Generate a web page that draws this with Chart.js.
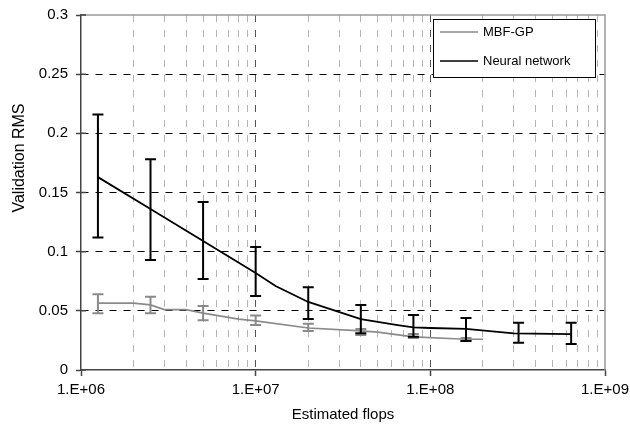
<!DOCTYPE html>
<html>
<head>
<meta charset="utf-8">
<script src="https://cdn.jsdelivr.net/npm/chart.js@4.4.1/dist/chart.umd.min.js"></script>
<style>
	html, body { margin: 0; padding: 0; background: #fff; }
	#rmsChart { display: block; }
</style>
</head>
<body>
<canvas id="rmsChart" width="630" height="433"></canvas>
<script>

/***************************** data *****************************/
// MBF-GP curve
let gpFlops = [1.25e6, 2e6, 2.5e6, 3e6, 4e6, 5e6, 8e6, 1e7, 2e7, 4e7, 5e7, 8e7, 1.6e8, 2e8]
let gpRms = [0.0565, 0.0565, 0.055, 0.051, 0.051, 0.048, 0.043, 0.0415, 0.0355, 0.033, 0.032, 0.028, 0.026, 0.026]

// MBF-GP error bars
let gpErrFlops = [1.25e6, 2.5e6, 5e6, 1e7, 2e7, 4e7, 8e7, 1.6e8]
let gpErrLow = [0.048, 0.048, 0.042, 0.038, 0.033, 0.0296, 0.027, 0.0245]
let gpErrHigh = [0.064, 0.062, 0.054, 0.046, 0.039, 0.0347, 0.0304, 0.027]

// neural network curve
let nnFlops = [1.25e6, 2.5e6, 5e6, 1e7, 1.3e7, 2e7, 4e7, 6.5e7, 8e7, 1e8, 1.6e8, 3e8, 6.4e8]
let nnRms = [0.163, 0.136, 0.109, 0.082, 0.071, 0.0575, 0.043, 0.038, 0.036, 0.0355, 0.0347, 0.031, 0.0304]

// neural network error bars
let nnErrFlops = [1.25e6, 2.5e6, 5e6, 1e7, 2e7, 4e7, 8e7, 1.6e8, 3.2e8, 6.4e8]
let nnErrLow = [0.112, 0.093, 0.077, 0.0625, 0.043, 0.031, 0.028, 0.0245, 0.023, 0.022]
let nnErrHigh = [0.216, 0.178, 0.142, 0.104, 0.070, 0.055, 0.0465, 0.044, 0.040, 0.040]

// tick labels
let xTickLabels = ['1.E+06', '1.E+07', '1.E+08', '1.E+09']
let yTickLabels = ['0', '0.05', '0.1', '0.15', '0.2', '0.25', '0.3']

let seriesNames = ['MBF-GP', 'Neural network']
let xTitle = 'Estimated flops'
let yTitle = 'Validation RMS'

/***************************** helpers *****************************/
function ById(id) {
	return document.getElementById(id);
}

function toPoints(xs, ys) {
	let pts = []
	for (let i = 0; i < xs.length; i++) {
		pts.push({ x: xs[i], y: ys[i] })
	}
	return pts
}

function isDecade(v) {
	let l = Math.log10(v)
	return Math.abs(l - Math.round(l)) < 1e-9
}

// log grid: 1..9 x 10^n
let xGrid = []
for (let e = 6; e < 9; e++) {
	for (let m = 1; m < 10; m++) {
		xGrid.push(m * Math.pow(10, e))
	}
}
xGrid.push(1e9)

const FONT = "'Liberation Sans', Arial, sans-serif"
const GRAY = '#8a8a8a'

/***************************** error bars *****************************/
const errorBarPlugin = {
	id: 'errorBars',
	afterDatasetsDraw(chart) {
		let ctx = chart.ctx
		let xs = chart.scales.x
		let ys = chart.scales.y
		let sets = [
			{ f: gpErrFlops, lo: gpErrLow, hi: gpErrHigh, color: GRAY },
			{ f: nnErrFlops, lo: nnErrLow, hi: nnErrHigh, color: '#000' }
		]
		ctx.save()
		ctx.lineWidth = 2
		for (let s of sets) {
			ctx.strokeStyle = s.color
			for (let i = 0; i < s.f.length; i++) {
				let px = xs.getPixelForValue(s.f[i])
				let top = ys.getPixelForValue(s.hi[i])
				let bot = ys.getPixelForValue(s.lo[i])
				ctx.beginPath()
				ctx.moveTo(px, top)
				ctx.lineTo(px, bot)
				ctx.moveTo(px - 5.5, top)
				ctx.lineTo(px + 5.5, top)
				ctx.moveTo(px - 5.5, bot)
				ctx.lineTo(px + 5.5, bot)
				ctx.stroke()
			}
		}
		ctx.restore()
	}
}

/***************************** frame, legend, titles *****************************/
const framePlugin = {
	id: 'frame',
	afterDraw(chart) {
		let ctx = chart.ctx
		let a = chart.chartArea
		ctx.save()

		// top and right frame
		ctx.strokeStyle = '#999'
		ctx.lineWidth = 1.5
		ctx.beginPath()
		ctx.moveTo(a.left, a.top)
		ctx.lineTo(a.right, a.top)
		ctx.lineTo(a.right, a.bottom)
		ctx.stroke()

		// y ticks reach a little inside the plot
		ctx.strokeStyle = '#444'
		ctx.beginPath()
		for (let i = 0; i < yTickLabels.length; i++) {
			let py = chart.scales.y.getPixelForValue(Number(yTickLabels[i]))
			ctx.moveTo(a.left, py)
			ctx.lineTo(a.left + 5, py)
		}
		ctx.stroke()

		// legend box
		let w = 162, h = 58
		let lx = a.right - 10 - w
		let ly = a.top + 4
		ctx.fillStyle = '#fff'
		ctx.fillRect(lx, ly, w, h)
		ctx.strokeStyle = '#000'
		ctx.lineWidth = 1
		ctx.strokeRect(lx + 0.5, ly + 0.5, w, h)

		ctx.font = '13px ' + FONT
		ctx.textBaseline = 'middle'
		ctx.textAlign = 'left'
		chart.data.datasets.forEach(function(ds, i) {
			let ry = ly + 13 + i * 29
			ctx.strokeStyle = ds.borderColor
			ctx.lineWidth = 1.5
			ctx.beginPath()
			ctx.moveTo(lx + 7, ry)
			ctx.lineTo(lx + 45, ry)
			ctx.stroke()
			ctx.fillStyle = '#000'
			ctx.fillText(ds.label, lx + 50, ry)
		})

		// axis titles
		ctx.fillStyle = '#000'
		ctx.font = '15px ' + FONT
		ctx.textAlign = 'center'
		ctx.fillText(xTitle, (a.left + a.right) / 2, 415)

		ctx.save()
		ctx.translate(20, 158)
		ctx.rotate(-Math.PI / 2)
		ctx.font = '16px ' + FONT
		ctx.fillText(yTitle, 0, 0)
		ctx.restore()

		ctx.restore()
	}
}

/***************************** chart *****************************/
var chartArea = ById('rmsChart').getContext('2d');

Chart.defaults.font.family = FONT
Chart.defaults.color = '#000'

var rmsChart = new Chart(chartArea, {
	type: 'line',
	data: {
		datasets: [{
			label: seriesNames[0],
			data: toPoints(gpFlops, gpRms),
			borderColor: GRAY,
			backgroundColor: GRAY,
			borderWidth: 1.7,
			pointRadius: 0,
			tension: 0
		}, {
			label: seriesNames[1],
			data: toPoints(nnFlops, nnRms),
			borderColor: '#000',
			backgroundColor: '#000',
			borderWidth: 1.8,
			pointRadius: 0,
			tension: 0
		}]
	},
	options: {
		responsive: false,
		animation: false,
		devicePixelRatio: 1,
		layout: {
			padding: { top: 15, right: 25, left: 0, bottom: 0 }
		},
		plugins: {
			legend: { display: false },
			tooltip: { enabled: false }
		},
		scales: {
			x: {
				type: 'logarithmic',
				min: 1e6,
				max: 1e9,
				afterBuildTicks: function(scale) {
					scale.ticks = xGrid.map(function(v) { return { value: v, major: isDecade(v) } })
				},
				afterFit: function(scale) {
					scale.height = 63
					// end labels may overhang, keep plot width fixed
					scale.paddingLeft = 0
					scale.paddingRight = 0
				},
				ticks: {
					autoSkip: false,
					maxRotation: 0,
					padding: 5,
					font: { size: 15 },
					color: '#000',
					callback: function(v) {
						if (!isDecade(v)) return ''
						return xTickLabels[Math.round(Math.log10(v)) - 6]
					}
				},
				grid: {
					lineWidth: 1,
					color: function(c) {
						let v = c.tick ? c.tick.value : 0
						if (v <= 1e6 || v >= 1e9) return 'rgba(0,0,0,0)'
						return isDecade(v) ? '#555' : '#b4b4b4'
					},
					tickLength: 6,
					tickWidth: 1.5,
					tickColor: function(c) {
						let v = c.tick ? c.tick.value : 0
						return isDecade(v) ? '#444' : 'rgba(0,0,0,0)'
					}
				},
				border: {
					color: '#444',
					width: 1.5,
					dash: [7, 8]
				}
			},
			y: {
				min: 0,
				max: 0.3,
				afterFit: function(scale) {
					scale.width = 81
					scale.paddingTop = 0
					scale.paddingBottom = 0
				},
				ticks: {
					stepSize: 0.05,
					padding: 8,
					font: { size: 15 },
					color: '#000',
					callback: function(v, i) {
						return yTickLabels[i]
					}
				},
				grid: {
					lineWidth: 1,
					color: function(c) {
						if (c.index === 0 || c.index === yTickLabels.length - 1) return 'rgba(0,0,0,0)'
						return '#000'
					},
					tickLength: 5,
					tickWidth: 1.5,
					tickColor: '#444'
				},
				border: {
					color: '#444',
					width: 1.5,
					dash: [7, 7]
				}
			}
		}
	},
	plugins: [errorBarPlugin, framePlugin]
})

</script>
</body>
</html>
